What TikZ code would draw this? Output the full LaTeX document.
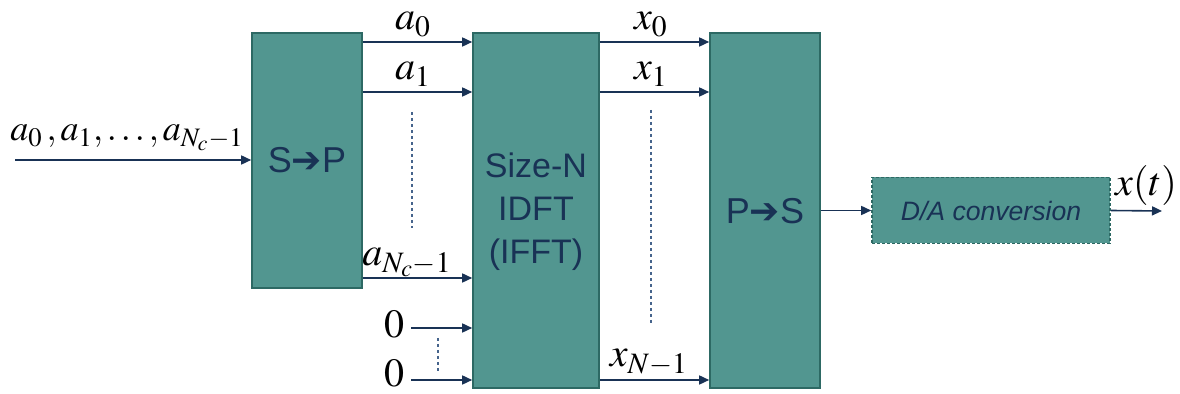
\documentclass[tikz,border=0pt]{standalone}
\usepackage{mathptmx}
\usepackage[no-math]{fontspec}
\setmainfont{Liberation Serif}
\setsansfont{Liberation Sans}
\newfontfamily\symfont{DejaVu Sans}
\usetikzlibrary{arrows.meta}
\definecolor{boxfill}{RGB}{82,150,144}
\definecolor{boxedge}{RGB}{45,105,100}
\definecolor{navy}{RGB}{25,50,85}
\definecolor{dotc}{RGB}{70,100,140}
\begin{document}
\begin{tikzpicture}[x=0.5pt,y=-0.5pt,
  blk/.style={draw=boxedge,fill=boxfill,line width=0.8pt,inner sep=0pt},
  conn/.style={draw=navy,line width=0.8pt,-{Triangle[length=5pt,width=4.5pt]}},
  dotline/.style={draw=dotc,line width=0.6pt,dash pattern=on 1.5pt off 1.5pt},
  lbl/.style={font=\fontsize{20}{22}\selectfont,inner sep=0pt},
  boxtxt/.style={font=\sffamily\fontsize{17}{20}\selectfont,text=navy,align=center}]
\useasboundingbox (0,0) rectangle (1180,394);
% blocks
\node[blk,minimum width=55pt,minimum height=127.5pt] (spbox) at (307,160.5) {};
\node[boxtxt,font=\sffamily\fontsize{18}{20}\selectfont] at (307,160) {S{\symfont ➔}P};
\node[blk,minimum width=63pt,minimum height=177.5pt] (idft) at (536,210.5) {};
\node[boxtxt,align=center] at (536,212) {Size-N\\[1.5pt]IDFT\\[1.5pt](IFFT)};
\node[blk,minimum width=55pt,minimum height=177.5pt] (ps) at (765,210.5) {};
\node[boxtxt,font=\sffamily\fontsize{18}{20}\selectfont] at (765,211) {P{\symfont ➔}S};
\node[blk,dashed,dash pattern=on 1.5pt off 1pt,minimum width=119pt,minimum height=33pt] (da) at (991,210.5) {};
\node[font=\sffamily\itshape\fontsize{13.3}{15}\selectfont,text=navy] at (991,211) {D/A conversion};
% coordinates
\coordinate (in) at (15,160);
\coordinate (o0) at (411,328);
\coordinate (o1) at (411,380);
\coordinate (out) at (1162,211);
% input
\draw[conn] (in) -- (in -| spbox.west);
\node[lbl,font=\fontsize{18}{20}\selectfont,anchor=base west] (inl) at (10,141) {$a_0\,,a_1,\ldots,a_{N_c-1}$};
% S->P to IDFT
\draw[conn] (spbox.east |- 0,42) -- (idft.west |- 0,42);
\draw[conn] (spbox.east |- 0,92) -- (idft.west |- 0,92);
\draw[conn] (spbox.east |- 0,278) -- (idft.west |- 0,278);
\node[lbl,anchor=base] (la0) at (413,30) {$a_0$};
\node[lbl,anchor=base] (la1) at (413,80) {$a_1$};
\node[lbl,anchor=base] (laN) at (407,266) {$a_{N_c-1}$};
\draw[dotline] (412,112) -- (412,228);
% zeros
\draw[conn] (o0) -- (o0 -| idft.west);
\draw[conn] (o1) -- (o1 -| idft.west);
\node[lbl,anchor=base] (z0) at (394,338) {$0$};
\node[lbl,anchor=base] (z1) at (394,387) {$0$};
\draw[dotline] (438,338) -- (438,374);
% IDFT to P->S
\draw[conn] (idft.east |- 0,42) -- (ps.west |- 0,42);
\draw[conn] (idft.east |- 0,92) -- (ps.west |- 0,92);
\draw[conn] (idft.east |- 0,380) -- (ps.west |- 0,380);
\node[lbl,anchor=base] (lx0) at (651,30) {$x_0$};
\node[lbl,anchor=base] (lx1) at (651,80) {$x_1$};
\node[lbl,anchor=base] (lxN) at (649,367) {$x_{N-1}$};
\draw[dotline] (651,110) -- (651,326);
% P->S to D/A
\draw[conn] (ps.east |- da.west) -- (da.west);
\draw[conn] (da.east) -- (out);
\node[lbl,anchor=base] (xt) at (1146,196) {$x(t)$};
\end{tikzpicture}
\end{document}
